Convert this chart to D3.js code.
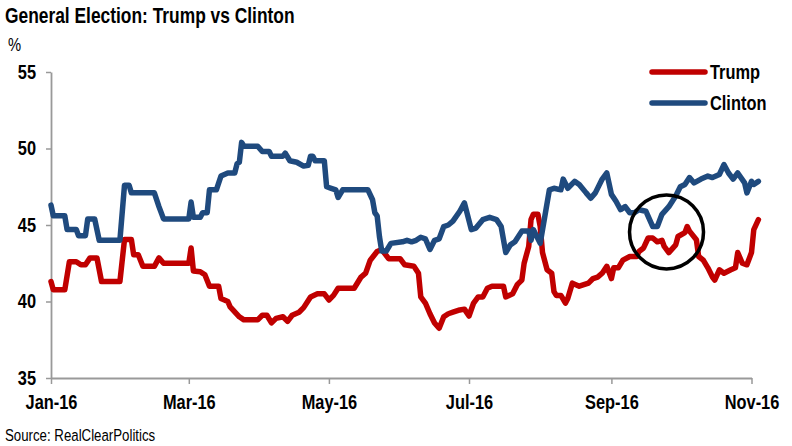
<!DOCTYPE html>
<html>
<head>
<meta charset="utf-8">
<script src="https://cdn.jsdelivr.net/npm/d3@7"></script>
<style>
  body { margin: 0; background: #fff; }
  svg text { font-family: "Liberation Sans Narrow", "Arial Narrow", "Liberation Sans", Arial, sans-serif; fill: #000; }
</style>
</head>
<body>
<div id="chart"></div>
<script>
// RCP polling averages
const trumpData = [
  ["2016-01-01",41.3],["2016-01-02",40.76],["2016-01-07",40.76],["2016-01-09",42.6],["2016-01-12",42.6],
  ["2016-01-14",42.4],["2016-01-16",42.4],["2016-01-18",42.85],["2016-01-21",42.85],["2016-01-23",41.3],
  ["2016-01-31",41.3],["2016-02-02",44.05],["2016-02-05",44.05],["2016-02-06",43.05],["2016-02-08",43.05],
  ["2016-02-10",42.3],["2016-02-15",42.3],["2016-02-17",42.85],["2016-02-19",42.5],["2016-03-01",42.5],
  ["2016-03-02",43.5],["2016-03-03",42.0],["2016-03-06",41.95],["2016-03-08",41.75],["2016-03-10",41.0],
  ["2016-03-14",41.0],["2016-03-15",40.2],["2016-03-18",40.0],["2016-03-19",39.65],["2016-03-23",39.0],
  ["2016-03-25",38.8],["2016-03-31",38.8],["2016-04-02",39.1],["2016-04-04",39.1],["2016-04-06",38.6],
  ["2016-04-08",38.9],["2016-04-11",39.0],["2016-04-13",38.7],["2016-04-15",39.1],["2016-04-18",39.3],
  ["2016-04-20",39.6],["2016-04-23",40.3],["2016-04-26",40.5],["2016-04-29",40.5],["2016-05-01",40.1],
  ["2016-05-03",40.4],["2016-05-05",40.87],["2016-05-12",40.87],["2016-05-15",41.6],["2016-05-17",41.85],
  ["2016-05-19",42.7],["2016-05-22",43.27],["2016-05-24",43.4],["2016-05-27",42.8],["2016-06-01",42.8],
  ["2016-06-03",42.4],["2016-06-07",42.3],["2016-06-09",41.85],["2016-06-10",40.3],["2016-06-12",39.9],
  ["2016-06-14",39.2],["2016-06-16",38.6],["2016-06-18",38.25],["2016-06-20",39.0],["2016-06-22",39.2],
  ["2016-06-24",39.3],["2016-06-27",39.45],["2016-06-29",39.5],["2016-07-01",39.05],["2016-07-03",39.9],
  ["2016-07-05",40.3],["2016-07-07",40.3],["2016-07-09",40.87],["2016-07-11",41.0],["2016-07-16",41.0],
  ["2016-07-17",40.3],["2016-07-20",40.5],["2016-07-22",41.1],["2016-07-24",41.4],["2016-07-25",42.5],
  ["2016-07-27",43.6],["2016-07-28",45.35],["2016-07-29",45.7],["2016-07-31",45.7],["2016-08-01",44.9],
  ["2016-08-02",43.2],["2016-08-04",42.07],["2016-08-06",41.85],["2016-08-07",40.65],["2016-08-08",40.4],
  ["2016-08-10",40.4],["2016-08-12",39.9],["2016-08-13",40.2],["2016-08-15",41.2],["2016-08-18",41.0],
  ["2016-08-20",41.1],["2016-08-22",41.2],["2016-08-24",41.5],["2016-08-26",41.6],["2016-08-28",41.85],
  ["2016-08-30",42.3],["2016-09-01",41.5],["2016-09-02",42.2],["2016-09-04",42.2],["2016-09-06",42.7],
  ["2016-09-09",42.94],["2016-09-12",42.94],["2016-09-13",43.27],["2016-09-15",43.5],["2016-09-17",44.15],
  ["2016-09-19",44.15],["2016-09-21",43.9],["2016-09-23",44.0],["2016-09-24",43.6],["2016-09-26",43.2],
  ["2016-09-29",43.7],["2016-09-30",44.25],["2016-10-03",44.5],["2016-10-04",44.9],["2016-10-05",44.6],
  ["2016-10-08",44.04],["2016-10-09",42.94],["2016-10-11",42.7],["2016-10-13",42.2],["2016-10-15",41.6],
  ["2016-10-16",41.4],["2016-10-18",42.07],["2016-10-20",41.85],["2016-10-23",42.07],["2016-10-25",42.2],
  ["2016-10-26",43.2],["2016-10-28",42.5],["2016-10-30",42.4],["2016-11-01",43.2],["2016-11-02",44.7],
  ["2016-11-04",45.35]
];

const clintonData = [
  ["2016-01-01",46.3],["2016-01-02",45.6],["2016-01-07",45.6],["2016-01-08",44.7],["2016-01-12",44.7],
  ["2016-01-13",44.3],["2016-01-16",44.3],["2016-01-17",45.4],["2016-01-20",45.4],["2016-01-22",44.0],
  ["2016-01-31",44.0],["2016-02-02",47.6],["2016-02-04",47.6],["2016-02-05",47.1],["2016-02-15",47.1],
  ["2016-02-17",46.2],["2016-02-19",45.4],["2016-03-01",45.4],["2016-03-02",46.5],["2016-03-03",45.5],
  ["2016-03-06",45.5],["2016-03-07",45.8],["2016-03-09",45.8],["2016-03-10",47.3],["2016-03-13",47.3],
  ["2016-03-15",48.2],["2016-03-18",48.4],["2016-03-21",48.4],["2016-03-22",49.0],["2016-03-23",49.1],
  ["2016-03-24",50.4],["2016-03-25",50.15],["2016-03-31",50.15],["2016-04-02",49.8],["2016-04-05",49.8],
  ["2016-04-06",49.5],["2016-04-11",49.5],["2016-04-12",49.7],["2016-04-14",49.2],["2016-04-17",49.1],
  ["2016-04-20",48.85],["2016-04-22",48.9],["2016-04-23",49.5],["2016-04-24",49.5],["2016-04-25",49.2],
  ["2016-04-29",49.2],["2016-04-30",47.5],["2016-05-02",47.4],["2016-05-04",47.3],["2016-05-05",46.8],
  ["2016-05-07",47.3],["2016-05-18",47.3],["2016-05-20",46.65],["2016-05-21",45.8],["2016-05-22",45.6],
  ["2016-05-23",44.25],["2016-05-24",43.3],["2016-05-26",43.3],["2016-05-28",43.8],["2016-06-02",43.9],
  ["2016-06-04",44.0],["2016-06-06",43.9],["2016-06-08",44.0],["2016-06-10",44.2],["2016-06-12",44.1],
  ["2016-06-14",43.4],["2016-06-16",44.0],["2016-06-18",44.1],["2016-06-20",44.9],["2016-06-22",45.0],
  ["2016-06-24",45.25],["2016-06-27",45.9],["2016-06-29",46.45],["2016-07-02",44.7],["2016-07-04",44.8],
  ["2016-07-07",45.35],["2016-07-10",45.5],["2016-07-13",45.35],["2016-07-15",44.9],["2016-07-17",43.2],
  ["2016-07-19",43.7],["2016-07-21",43.9],["2016-07-24",44.6],["2016-07-27",44.6],["2016-07-28",44.0],
  ["2016-07-29",44.7],["2016-08-01",43.8],["2016-08-03",45.55],["2016-08-05",47.3],["2016-08-07",47.4],
  ["2016-08-10",47.3],["2016-08-11",48.0],["2016-08-13",47.4],["2016-08-16",47.85],["2016-08-18",47.65],
  ["2016-08-21",47.1],["2016-08-23",46.75],["2016-08-25",47.1],["2016-08-28",48.0],["2016-08-30",48.4],
  ["2016-09-01",47.0],["2016-09-03",46.55],["2016-09-05",46.0],["2016-09-07",46.2],["2016-09-09",45.8],
  ["2016-09-11",45.8],["2016-09-13",46.0],["2016-09-16",45.9],["2016-09-19",44.9],["2016-09-21",44.9],
  ["2016-09-23",45.7],["2016-09-26",46.2],["2016-09-29",46.9],["2016-10-01",47.5],["2016-10-03",47.65],
  ["2016-10-05",48.1],["2016-10-07",47.75],["2016-10-10",48.0],["2016-10-13",48.2],["2016-10-15",48.1],
  ["2016-10-18",48.3],["2016-10-20",48.95],["2016-10-22",48.4],["2016-10-24",48.0],["2016-10-26",48.4],
  ["2016-10-29",47.75],["2016-10-30",47.1],["2016-11-01",47.85],["2016-11-02",47.65],["2016-11-04",47.85]
];

const xTicks = ["2016-01-01","2016-03-01","2016-05-01","2016-07-01","2016-09-01","2016-11-01"];
const yTicks = [35, 40, 45, 50, 55];

const seriesNames = ["Trump", "Clinton"];
const seriesColors = ["#c00000", "#1f4a7e"];

// circled area (mid/late Sept, around the first debate)
const circleCenter = ["2016-09-25", 44.55];

const W = 792, H = 446;
const margin = {top: 72, right: 40, bottom: 68, left: 51};
const width = 751.5 - margin.left;
const height = 378 - margin.top;
const NARROW = 0.82;   // no Arial Narrow here, so squeeze Liberation Sans

const parseDate = d3.timeParse("%Y-%m-%d");

// squeeze a text horizontally while keeping its anchor point
function narrow(sel, k) {
    sel.each(function () {
        const t = d3.select(this);
        const x0 = +t.attr("x") || 0;
        t.attr("x", x0 / k).attr("transform", `scale(${k},1)`);
    });
}

const svg = d3.select("#chart").append("svg")
    .attr("width", W)
    .attr("height", H);

const g = svg.append("g")
    .attr("transform", `translate(${margin.left},${margin.top})`);

const x = d3.scaleTime()
    .domain([parseDate(xTicks[0]), parseDate(xTicks[xTicks.length - 1])])
    .range([0, width]);

const y = d3.scaleLinear()
    .domain([35, 55])
    .range([height, 0]);

// axes
const xAxis = d3.axisBottom(x)
    .tickValues(xTicks.map(parseDate))
    .tickFormat(d3.timeFormat("%b-%y"))
    .tickSize(6)
    .tickSizeOuter(0)
    .tickPadding(11);

const yAxis = d3.axisLeft(y)
    .tickValues(yTicks)
    .tickSize(5)
    .tickSizeOuter(0)
    .tickPadding(10);

const gx = g.append("g")
    .attr("class", "x-axis")
    .attr("transform", `translate(0,${height})`)
    .call(xAxis);

const gy = g.append("g")
    .attr("class", "y-axis")
    .call(yAxis);

[gx, gy].forEach(a => {
    a.select(".domain").attr("stroke", "#999").attr("stroke-width", 1.8);
    a.selectAll(".tick line").attr("stroke", "#999").attr("stroke-width", 1.5);
    a.selectAll(".tick text")
        .attr("font-size", 20)
        .attr("font-weight", "bold")
        .attr("fill", "#000")
        .call(narrow, NARROW);
});

// lines
const line = d3.line()
    .x(d => x(parseDate(d[0])))
    .y(d => y(d[1]));

[trumpData, clintonData].forEach((data, i) => {
    g.append("path")
        .datum(data)
        .attr("fill", "none")
        .attr("stroke", seriesColors[i])
        .attr("stroke-width", 5.5)
        .attr("stroke-linejoin", "round")
        .attr("stroke-linecap", "round")
        .attr("d", line);
});

// annotation circle
g.append("circle")
    .attr("cx", x(parseDate(circleCenter[0])))
    .attr("cy", y(circleCenter[1]))
    .attr("r", 37)
    .attr("fill", "none")
    .attr("stroke", "#000")
    .attr("stroke-width", 3.5);

// legend
const legend = svg.append("g").attr("transform", "translate(652,72)");
seriesNames.forEach((name, i) => {
    const row = legend.append("g").attr("transform", `translate(0,${i * 31})`);
    row.append("line")
        .attr("x1", 0).attr("x2", 53)
        .attr("stroke", seriesColors[i])
        .attr("stroke-width", 5.5)
        .attr("stroke-linecap", "round");
    row.append("text")
        .attr("x", 58)
        .attr("y", 7)
        .attr("font-size", 20)
        .attr("font-weight", "bold")
        .text(name)
        .call(narrow, NARROW);
});

// titles
svg.append("text")
    .attr("x", 5).attr("y", 23)
    .attr("font-size", 22)
    .attr("font-weight", "bold")
    .text("General Election: Trump vs Clinton")
    .call(narrow, 0.79);

svg.append("text")
    .attr("x", 8).attr("y", 51)
    .attr("font-size", 18)
    .text("%")
    .call(narrow, NARROW);

svg.append("text")
    .attr("x", 5).attr("y", 441)
    .attr("font-size", 17)
    .text("Source: RealClearPolitics")
    .call(narrow, 0.78);
</script>
</body>
</html>
